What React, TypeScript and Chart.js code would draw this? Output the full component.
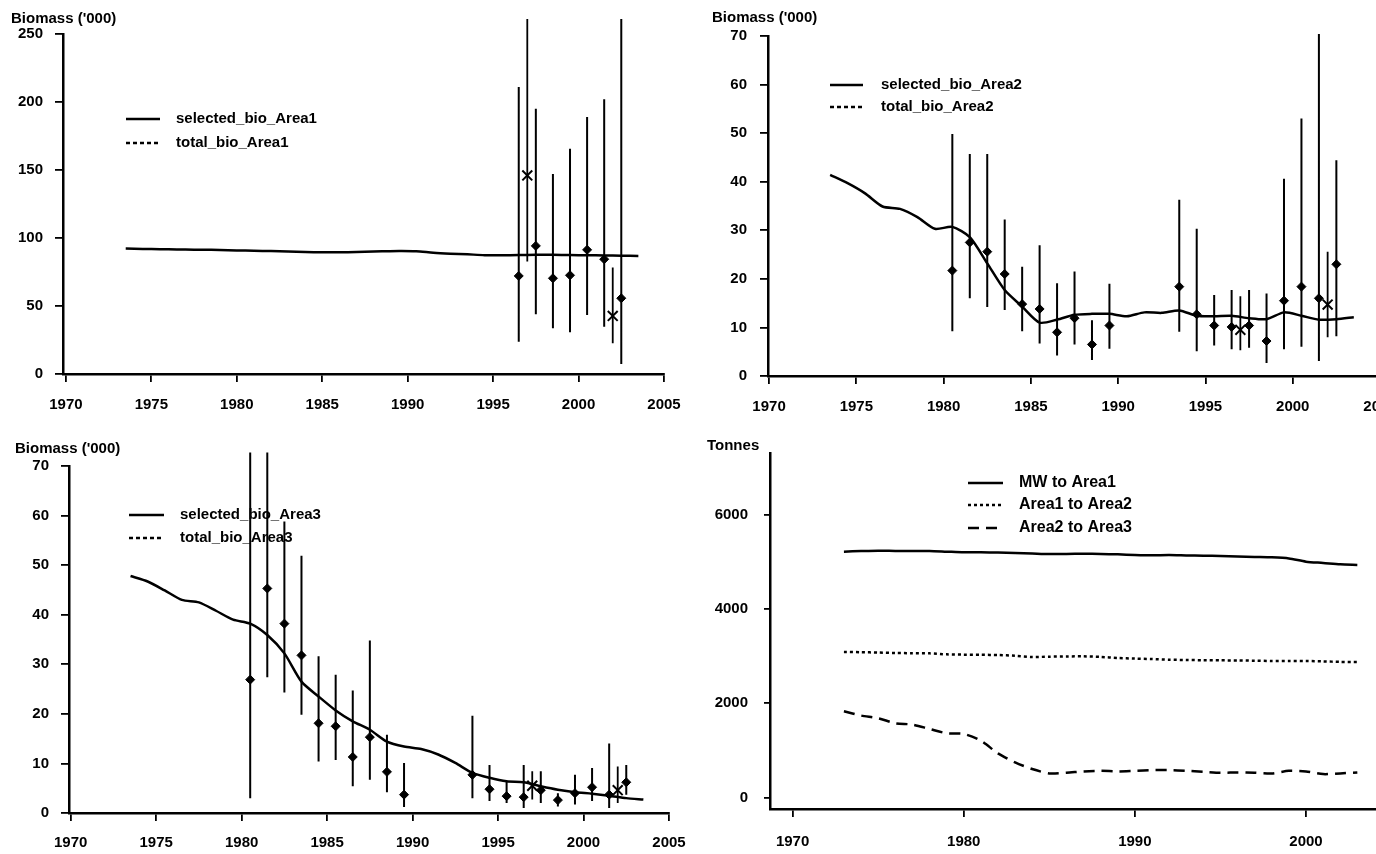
import React, { useEffect, useRef } from "react";
import { Chart, registerables } from "chart.js";

Chart.register(...registerables);

// ---------- data ----------
const modelYears = [
  1973.5, 1974.5, 1975.5, 1976.5, 1977.5, 1978.5, 1979.5, 1980.5, 1981.5, 1982.5,
  1983.5, 1984.5, 1985.5, 1986.5, 1987.5, 1988.5, 1989.5, 1990.5, 1991.5, 1992.5,
  1993.5, 1994.5, 1995.5, 1996.5, 1997.5, 1998.5, 1999.5, 2000.5, 2001.5, 2002.5, 2003.5,
];

const selectedBioArea1 = [
  92.2, 92.0, 91.8, 91.6, 91.4, 91.3, 91.0, 90.8, 90.5, 90.2,
  89.9, 89.6, 89.5, 89.6, 89.8, 90.2, 90.5, 90.3, 89.2, 88.5,
  88.0, 87.4, 87.3, 87.5, 87.6, 87.6, 87.5, 87.3, 87.2, 87.0, 86.8,
];
const selectedBioArea2 = [
  41.4, 39.7, 37.6, 34.9, 34.4, 32.7, 30.3, 30.7, 28.6, 23.2,
  17.7, 14.3, 11.0, 11.6, 12.6, 12.8, 12.8, 12.3, 13.1, 13.0,
  13.5, 12.4, 12.3, 12.4, 11.9, 11.7, 13.1, 12.4, 11.6, 11.7, 12.1,
];
const selectedBioArea3 = [
  47.8, 46.7, 44.9, 43.0, 42.5, 40.8, 39.0, 38.2, 35.9, 32.2,
  26.5, 23.5, 20.7, 18.5, 16.8, 14.4, 13.4, 12.9, 11.8, 10.1,
  8.1, 7.1, 6.4, 6.2, 5.4, 4.7, 4.2, 3.9, 3.5, 3.0, 2.7,
];

// survey indices (diamonds) with intervals
const area1SurveyYears = [1996.5, 1997.5, 1998.5, 1999.5, 2000.5, 2001.5, 2002.5];
const area1SurveyVals = [72.1, 94.2, 70.4, 72.6, 91.3, 84.4, 55.7];
const area1SurveyLo = [23.8, 44.0, 33.6, 30.7, 43.4, 34.8, 7.4];
const area1SurveyHi = [211, 195, 147, 165.6, 189, 202, 261];

const area23SurveyYears = [
  1980.5, 1981.5, 1982.5, 1983.5, 1984.5, 1985.5, 1986.5, 1987.5, 1988.5, 1989.5,
  1993.5, 1994.5, 1995.5, 1996.5, 1997.5, 1998.5, 1999.5, 2000.5, 2001.5, 2002.5,
];
const area2SurveyVals = [21.7, 27.5, 25.6, 21.0, 14.8, 13.8, 9.0, 11.9, 6.5, 10.4, 18.4, 12.7, 10.4, 10.1, 10.4, 7.2, 15.5, 18.4, 16.0, 23.0];
const area2SurveyLo = [9.2, 16.0, 14.2, 13.6, 9.2, 6.7, 4.2, 6.5, 3.3, 5.6, 9.1, 5.1, 6.3, 5.5, 5.8, 2.7, 5.5, 6.0, 3.1, 8.2];
const area2SurveyHi = [49.8, 45.7, 45.7, 32.2, 22.5, 26.9, 19.1, 21.5, 11.5, 19.0, 36.3, 30.3, 16.7, 17.7, 17.7, 17.0, 40.6, 53.0, 70.4, 44.4];

const area3SurveyVals = [26.9, 45.3, 38.2, 31.8, 18.1, 17.5, 11.3, 15.3, 8.3, 3.7, 7.7, 4.8, 3.4, 3.2, 4.6, 2.6, 4.0, 5.2, 3.7, 6.2];
const area3SurveyLo = [3.0, 27.4, 24.3, 19.8, 10.4, 10.7, 5.4, 6.7, 4.2, 1.2, 3.0, 2.4, 2.0, 1.0, 2.0, 1.3, 1.7, 2.4, 1.0, 3.7];
const area3SurveyHi = [72.7, 72.7, 58.8, 51.9, 31.6, 27.9, 24.7, 34.8, 15.8, 10.1, 19.6, 9.7, 6.4, 9.7, 8.4, 4.0, 7.7, 9.1, 14.0, 9.7];

// second index (crosses)
const crossYears = [1997, 2002];
const area1CrossVals = [146, 42.7];
const area1CrossLo = [82.7, 22.6];
const area1CrossHi = [261, 78.3];
const area2CrossVals = [9.5, 14.7];
const area2CrossLo = [5.3, 8.0];
const area2CrossHi = [16.4, 25.6];
const area3CrossVals = [5.5, 4.6];
const area3CrossLo = [2.7, 2.0];
const area3CrossHi = [8.4, 9.4];

// movement (tonnes)
const moveYears = [
  1973, 1974, 1975, 1976, 1977, 1978, 1979, 1980, 1981, 1982,
  1983, 1984, 1985, 1986, 1987, 1988, 1989, 1990, 1991, 1992,
  1993, 1994, 1995, 1996, 1997, 1998, 1999, 2000, 2001, 2002, 2003,
];
const mwToArea1 = [
  5220, 5232, 5241, 5236, 5234, 5234, 5220, 5206, 5206, 5199,
  5190, 5180, 5170, 5172, 5174, 5170, 5162, 5149, 5142, 5149,
  5140, 5132, 5128, 5118, 5108, 5099, 5075, 5007, 4980, 4950, 4936,
];
const area1ToArea2 = [
  3090, 3085, 3078, 3068, 3064, 3060, 3040, 3033, 3030, 3025,
  3010, 2983, 2990, 2995, 2997, 2985, 2962, 2950, 2940, 2926,
  2920, 2915, 2912, 2910, 2905, 2898, 2900, 2898, 2890, 2880, 2876,
];
const area2ToArea3 = [
  1832, 1740, 1683, 1577, 1548, 1456, 1364, 1349, 1207, 938,
  746, 604, 511, 526, 554, 568, 554, 568, 582, 582,
  568, 547, 526, 533, 526, 511, 568, 554, 497, 511, 533,
];

const biomassXTicks = [1970, 1975, 1980, 1985, 1990, 1995, 2000, 2005];
const area1YTicks = [0, 50, 100, 150, 200, 250];
const area23YTicks = [0, 10, 20, 30, 40, 50, 60, 70];
const tonnesXTicks = [1970, 1980, 1990, 2000];
const tonnesYTicks = [0, 2000, 4000, 6000];

// ---------- helpers ----------
const FONT_FAMILY = '"Liberation Sans", Arial, Helvetica, sans-serif';

function pts(xs: number[], ys: number[]) {
  return xs.map((x, i) => ({ x, y: ys[i] }));
}
function segs(xs: number[], lo: number[], hi: number[]) {
  const out: any[] = [];
  xs.forEach((x, i) => {
    out.push({ x, y: lo[i] }, { x, y: hi[i] }, { x, y: null });
  });
  return out;
}

type LegendItem = { text: string; dash: number[]; y: number };
function legendPlugin(x0: number, x1: number, tx: number, size: number, items: LegendItem[]) {
  return {
    id: "customLegend",
    afterDraw(chart: any) {
      const ctx = chart.ctx;
      ctx.save();
      items.forEach((it) => {
        ctx.beginPath();
        ctx.setLineDash(it.dash);
        ctx.lineWidth = 2.5;
        ctx.strokeStyle = "#000";
        ctx.moveTo(x0, it.y);
        ctx.lineTo(x1, it.y);
        ctx.stroke();
        ctx.setLineDash([]);
        ctx.fillStyle = "#000";
        ctx.font = `bold ${size}px ${FONT_FAMILY}`;
        ctx.textBaseline = "middle";
        ctx.textAlign = "left";
        ctx.fillText(it.text, tx, it.y);
      });
      ctx.restore();
    },
  };
}

function axis(opts: {
  min: number; max: number; ticks: number[]; size: number; isX: boolean;
  tickLength: number; padding: number;
}) {
  return {
    type: "linear",
    min: opts.min,
    max: opts.max,
    afterBuildTicks: (s: any) => {
      s.ticks = opts.ticks.map((v) => ({ value: v }));
    },
    afterFit: (s: any) => {
      if (opts.isX) {
        s.height = opts.size;
        s.paddingLeft = 0;
        s.paddingRight = 0;
      } else {
        s.width = opts.size;
        s.paddingTop = 0;
        s.paddingBottom = 0;
      }
    },
    grid: {
      drawOnChartArea: false,
      drawTicks: true,
      tickLength: opts.tickLength,
      color: "#000",
      lineWidth: 1.8,
    },
    border: { display: true, color: "#000", width: 2.5 },
    ticks: {
      color: "#000",
      padding: opts.padding,
      autoSkip: false,
      maxRotation: 0,
      font: { family: FONT_FAMILY, size: 15, weight: "bold" },
      callback: (v: any) => String(v),
    },
  };
}

function biomassDatasets(line: number[], sv: number[], slo: number[], shi: number[], cv: number[], clo: number[], chi: number[], sy: number[]) {
  return [
    {
      label: "selected",
      data: pts(modelYears, line),
      borderColor: "#000",
      borderWidth: 2.5,
      pointRadius: 0,
      tension: 0.25,
      fill: false,
    },
    {
      label: "survey intervals",
      data: segs(sy, slo, shi),
      borderColor: "#000",
      borderWidth: 2,
      pointRadius: 0,
      spanGaps: false,
      clip: false,
    },
    {
      label: "cross intervals",
      data: segs(crossYears, clo, chi),
      borderColor: "#000",
      borderWidth: 1.8,
      pointRadius: 0,
      spanGaps: false,
      clip: false,
    },
    {
      label: "survey",
      data: pts(sy, sv),
      showLine: false,
      pointStyle: "rectRot",
      pointRadius: 4.5,
      backgroundColor: "#000",
      borderColor: "#000",
      borderWidth: 1,
    },
    {
      label: "cross",
      data: pts(crossYears, cv),
      showLine: false,
      pointStyle: "crossRot",
      pointRadius: 7,
      borderColor: "#000",
      borderWidth: 2,
    },
  ];
}

type PanelProps = {
  left: number; top: number; width: number; height: number;
  build: () => any;
};

function Panel({ left, top, width, height, build }: PanelProps) {
  const ref = useRef<HTMLCanvasElement | null>(null);
  useEffect(() => {
    if (!ref.current) return;
    const chart = new Chart(ref.current, build());
    return () => chart.destroy();
  }, []);
  return (
    <canvas
      ref={ref}
      width={width}
      height={height}
      style={{ position: "absolute", left, top, width, height }}
    />
  );
}

const baseOptions = (padding: any, scales: any) => ({
  responsive: false,
  animation: false,
  events: [],
  layout: { padding, autoPadding: false },
  plugins: { legend: { display: false }, tooltip: { enabled: false }, title: { display: false } },
  scales,
});

function buildP1() {
  return {
    type: "line",
    data: {
      datasets: biomassDatasets(selectedBioArea1, area1SurveyVals, area1SurveyLo, area1SurveyHi, area1CrossVals, area1CrossLo, area1CrossHi, area1SurveyYears),
    },
    options: baseOptions(
      { left: 0, right: 26, top: 34, bottom: 6 },
      {
        x: axis({ min: 1969.83, max: 2005, ticks: biomassXTicks, size: 40, isX: true, tickLength: 8, padding: 14 }),
        y: axis({ min: 0, max: 250, ticks: area1YTicks, size: 63, isX: false, tickLength: 8, padding: 12 }),
      }
    ),
    plugins: [
      legendPlugin(126, 160, 176, 15, [
        { text: "selected_bio_Area1", dash: [], y: 119 },
        { text: "total_bio_Area1", dash: [4, 3], y: 143 },
      ]),
    ],
  };
}

function buildP2() {
  return {
    type: "line",
    data: {
      datasets: biomassDatasets(selectedBioArea2, area2SurveyVals, area2SurveyLo, area2SurveyHi, area2CrossVals, area2CrossLo, area2CrossHi, area23SurveyYears),
    },
    options: baseOptions(
      { left: 0, right: 10, top: 36, bottom: 4 },
      {
        x: axis({ min: 1969.94, max: 2005, ticks: biomassXTicks, size: 40, isX: true, tickLength: 8, padding: 14 }),
        y: axis({ min: 0, max: 70, ticks: area23YTicks, size: 78, isX: false, tickLength: 8, padding: 13 }),
      }
    ),
    plugins: [
      legendPlugin(140, 173, 191, 15, [
        { text: "selected_bio_Area2", dash: [], y: 85 },
        { text: "total_bio_Area2", dash: [4, 3], y: 107 },
      ]),
    ],
  };
}

function buildP3() {
  return {
    type: "line",
    data: {
      datasets: biomassDatasets(selectedBioArea3, area3SurveyVals, area3SurveyLo, area3SurveyHi, area3CrossVals, area3CrossLo, area3CrossHi, area23SurveyYears),
    },
    options: baseOptions(
      { left: 0, right: 21, top: 46, bottom: 1 },
      {
        x: axis({ min: 1969.9, max: 2005, ticks: biomassXTicks, size: 40, isX: true, tickLength: 8, padding: 13 }),
        y: axis({ min: 0, max: 70, ticks: area23YTicks, size: 69, isX: false, tickLength: 8, padding: 12 }),
      }
    ),
    plugins: [
      legendPlugin(129, 164, 180, 15, [
        { text: "selected_bio_Area3", dash: [], y: 95 },
        { text: "total_bio_Area3", dash: [4, 3], y: 118 },
      ]),
    ],
  };
}

function buildP4() {
  return {
    type: "line",
    data: {
      datasets: [
        {
          label: "MW to Area1",
          data: pts(moveYears, mwToArea1),
          borderColor: "#000",
          borderWidth: 2.5,
          pointRadius: 0,
          tension: 0.25,
        },
        {
          label: "Area1 to Area2",
          data: pts(moveYears, area1ToArea2),
          borderColor: "#000",
          borderWidth: 2.5,
          borderDash: [3, 3],
          pointRadius: 0,
          tension: 0.25,
        },
        {
          label: "Area2 to Area3",
          data: pts(moveYears, area2ToArea3),
          borderColor: "#000",
          borderWidth: 2.5,
          borderDash: [11, 7],
          pointRadius: 0,
          tension: 0.25,
        },
      ],
    },
    options: baseOptions(
      { left: 0, right: 7, top: 33, bottom: 5 },
      {
        x: axis({ min: 1968.68, max: 2004.5, ticks: tonnesXTicks, size: 40, isX: true, tickLength: 8, padding: 16 }),
        y: axis({ min: -244, max: 7314, ticks: tonnesYTicks, size: 80, isX: false, tickLength: 6, padding: 16 }),
      }
    ),
    plugins: [
      legendPlugin(278, 313, 329, 16, [
        { text: "MW to Area1", dash: [], y: 63 },
        { text: "Area1 to Area2", dash: [3, 3], y: 85 },
        { text: "Area2 to Area3", dash: [11, 7], y: 108 },
      ]),
    ],
  };
}

const titleStyle = (left: number, top: number): React.CSSProperties => ({
  position: "absolute",
  left,
  top,
  font: `bold 15px ${FONT_FAMILY}`,
  color: "#000",
  lineHeight: "18px",
  whiteSpace: "nowrap",
});

export default function App() {
  return (
    <div
      style={{
        position: "fixed",
        left: 0,
        top: 0,
        width: 1376,
        height: 854,
        overflow: "hidden",
        background: "#fff",
      }}
    >
      <Panel left={0} top={0} width={690} height={420} build={buildP1} />
      <Panel left={690} top={0} width={700} height={420} build={buildP2} />
      <Panel left={0} top={420} width={690} height={434} build={buildP3} />
      <Panel left={690} top={420} width={700} height={434} build={buildP4} />
      <div style={titleStyle(11, 9)}>Biomass ('000)</div>
      <div style={titleStyle(712, 8)}>Biomass ('000)</div>
      <div style={titleStyle(15, 439)}>Biomass ('000)</div>
      <div style={titleStyle(707, 436)}>Tonnes</div>
    </div>
  );
}
